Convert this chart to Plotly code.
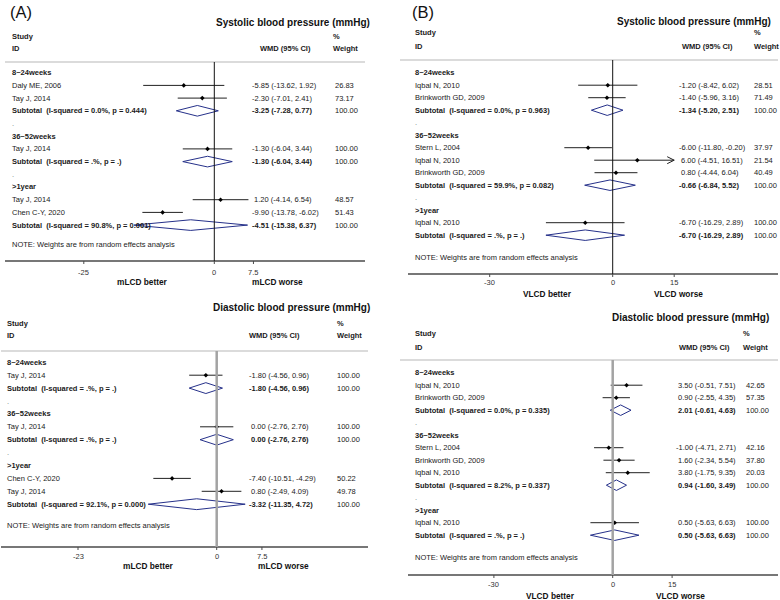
import plotly.graph_objects as go

W, H = 780, 600

# ------------------------------------------------------------------ data
# Panel A, systolic (mLCD)
A_SBP_rows = ["8~24weeks", "Daly ME, 2006", "Tay J, 2014",
              "Subtotal  (I-squared = 0.0%, p = 0.444)", ".",
              "36~52weeks", "Tay J, 2014",
              "Subtotal  (I-squared = .%, p = .)", ".",
              ">1year", "Tay J, 2014", "Chen C-Y, 2020",
              "Subtotal  (I-squared = 90.8%, p = 0.001)"]
A_SBP_kind = ["g", "s", "s", "t", "d", "g", "s", "t", "d", "g", "s", "s", "t"]
A_SBP_est = [None, -5.85, -2.30, -3.25, None, None, -1.30, -1.30, None, None, 1.20, -9.90, -4.51]
A_SBP_lo = [None, -13.62, -7.01, -7.28, None, None, -6.04, -6.04, None, None, -4.14, -13.78, -15.38]
A_SBP_hi = [None, 1.92, 2.41, 0.77, None, None, 3.44, 3.44, None, None, 6.54, -6.02, 6.37]
A_SBP_wt = [None, 26.83, 73.17, 100.00, None, None, 100.00, 100.00, None, None, 48.57, 51.43, 100.00]
A_SBP_ticks = [-25, 0, 7.5]
A_SBP_ticktext = ["-25", "0", "7.5"]

# Panel A, diastolic (mLCD)
A_DBP_rows = ["8~24weeks", "Tay J, 2014",
              "Subtotal  (I-squared = .%, p = .)", ".",
              "36~52weeks", "Tay J, 2014",
              "Subtotal  (I-squared = .%, p = .)", ".",
              ">1year", "Chen C-Y, 2020", "Tay J, 2014",
              "Subtotal  (I-squared = 92.1%, p = 0.000)"]
A_DBP_kind = ["g", "s", "t", "d", "g", "s", "t", "d", "g", "s", "s", "t"]
A_DBP_est = [None, -1.80, -1.80, None, None, 0.00, 0.00, None, None, -7.40, 0.80, -3.32]
A_DBP_lo = [None, -4.56, -4.56, None, None, -2.76, -2.76, None, None, -10.51, -2.49, -11.35]
A_DBP_hi = [None, 0.96, 0.96, None, None, 2.76, 2.76, None, None, -4.29, 4.09, 4.72]
A_DBP_wt = [None, 100.00, 100.00, None, None, 100.00, 100.00, None, None, 50.22, 49.78, 100.00]
A_DBP_ticks = [-23, 0, 7.5]
A_DBP_ticktext = ["-23", "0", "7.5"]

# Panel B, systolic (VLCD)
B_SBP_rows = ["8~24weeks", "Iqbal N, 2010", "Brinkworth GD, 2009",
              "Subtotal  (I-squared = 0.0%, p = 0.963)", ".",
              "36~52weeks", "Stern L, 2004", "Iqbal N, 2010", "Brinkworth GD, 2009",
              "Subtotal  (I-squared = 59.9%, p = 0.082)", ".",
              ">1year", "Iqbal N, 2010",
              "Subtotal  (I-squared = .%, p = .)"]
B_SBP_kind = ["g", "s", "s", "t", "d", "g", "s", "s", "s", "t", "d", "g", "s", "t"]
B_SBP_est = [None, -1.20, -1.40, -1.34, None, None, -6.00, 6.00, 0.80, -0.66, None, None, -6.70, -6.70]
B_SBP_lo = [None, -8.42, -5.96, -5.20, None, None, -11.80, -4.51, -4.44, -6.84, None, None, -16.29, -16.29]
B_SBP_hi = [None, 6.02, 3.16, 2.51, None, None, -0.20, 16.51, 6.04, 5.52, None, None, 2.89, 2.89]
B_SBP_wt = [None, 28.51, 71.49, 100.00, None, None, 37.97, 21.54, 40.49, 100.00, None, None, 100.00, 100.00]
B_SBP_ticks = [-30, 0, 15]
B_SBP_ticktext = ["-30", "0", "15"]

# Panel B, diastolic (VLCD)
B_DBP_rows = ["8~24weeks", "Iqbal N, 2010", "Brinkworth GD, 2009",
              "Subtotal  (I-squared = 0.0%, p = 0.335)", ".",
              "36~52weeks", "Stern L, 2004", "Brinkworth GD, 2009", "Iqbal N, 2010",
              "Subtotal  (I-squared = 8.2%, p = 0.337)", ".",
              ">1year", "Iqbal N, 2010",
              "Subtotal  (I-squared = .%, p = .)"]
B_DBP_kind = ["g", "s", "s", "t", "d", "g", "s", "s", "s", "t", "d", "g", "s", "t"]
B_DBP_est = [None, 3.50, 0.90, 2.01, None, None, -1.00, 1.60, 3.80, 0.94, None, None, 0.50, 0.50]
B_DBP_lo = [None, -0.51, -2.55, -0.61, None, None, -4.71, -2.34, -1.75, -1.60, None, None, -5.63, -5.63]
B_DBP_hi = [None, 7.51, 4.35, 4.63, None, None, 2.71, 5.54, 9.35, 3.49, None, None, 6.63, 6.63]
B_DBP_wt = [None, 42.65, 57.35, 100.00, None, None, 42.16, 37.80, 20.03, 100.00, None, None, 100.00, 100.00]
B_DBP_ticks = [-30, 0, 15]
B_DBP_ticktext = ["-30", "0", "15"]

NOTE_TEXT = "NOTE: Weights are from random effects analysis"

# ------------------------------------------------------------------ styling / geometry
FONT = "Liberation Sans, Arial, Helvetica, sans-serif"
TXT = "#1a1a1a"
NAVY = "#26318a"
AXC = "#4a4a4a"
FS = 7.5

panels = [
    dict(letter="(A)", letter_xy=(8, 12),
         title="Systolic blood pressure (mmHg)", better="mLCD better", worse="mLCD worse",
         rows=A_SBP_rows, kind=A_SBP_kind, est=A_SBP_est, lo=A_SBP_lo, hi=A_SBP_hi, wt=A_SBP_wt,
         ticks=A_SBP_ticks, ticktext=A_SBP_ticktext, tick_dy=11,
         x0=214.3, k=5.22, xl=5, xr=365, yt=62, yb=261, y0=72.7, s=12.7, hline=(5, 365),
         lab_x=10, est_x=250, wt_x=333, study_y=36, id_y=48.5, wmd_x=258, pct_x=331,
         title_r=372, title_y=22.5, note_y=244, better_xy=(142, 282), worse_xy=(277, 282),
         zero=("#111111", 1)),
    dict(letter=None, letter_xy=None,
         title="Diastolic blood pressure (mmHg)", better="mLCD better", worse="mLCD worse",
         rows=A_DBP_rows, kind=A_DBP_kind, est=A_DBP_est, lo=A_DBP_lo, hi=A_DBP_hi, wt=A_DBP_wt,
         ticks=A_DBP_ticks, ticktext=A_DBP_ticktext, tick_dy=9,
         x0=216.7, k=6.03, xl=1, xr=368, yt=351, yb=547, y0=362.3, s=12.9, hline=(1, 368),
         lab_x=5, est_x=247, wt_x=335, study_y=323, id_y=335, wmd_x=247, pct_x=335,
         title_r=372, title_y=307, note_y=525, better_xy=(148, 566), worse_xy=(283, 566),
         zero=("#a3a3a3", 2.5)),
    dict(letter="(B)", letter_xy=(410, 12),
         title="Systolic blood pressure (mmHg)", better="VLCD better", worse="VLCD worse",
         rows=B_SBP_rows, kind=B_SBP_kind, est=B_SBP_est, lo=B_SBP_lo, hi=B_SBP_hi, wt=B_SBP_wt,
         ticks=B_SBP_ticks, ticktext=B_SBP_ticktext, tick_dy=8,
         x0=612.7, k=4.1, xl=408, xr=778, yt=60, yb=274, y0=72.7, s=12.5, hline=(400, 778),
         lab_x=413, est_x=677, wt_x=752, study_y=32, id_y=46, wmd_x=680, pct_x=752,
         title_r=773, title_y=22, note_y=257, better_xy=(547, 294), worse_xy=(678, 294),
         zero=("#111111", 1)),
    dict(letter=None, letter_xy=None,
         title="Diastolic blood pressure (mmHg)", better="VLCD better", worse="VLCD worse",
         rows=B_DBP_rows, kind=B_DBP_kind, est=B_DBP_est, lo=B_DBP_lo, hi=B_DBP_hi, wt=B_DBP_wt,
         ticks=B_DBP_ticks, ticktext=B_DBP_ticktext, tick_dy=9.5,
         x0=612.7, k=3.96, xl=408, xr=778, yt=360, yb=575, y0=372.7, s=12.5, hline=(400, 778),
         lab_x=413, est_x=674, wt_x=744, study_y=333, id_y=347, wmd_x=677, pct_x=741,
         title_r=771, title_y=317, note_y=557, better_xy=(550, 595.5), worse_xy=(680, 595.5),
         zero=("#a3a3a3", 2.5)),
]

fig = go.Figure()
annotations = []
shapes = []


def px2paper_x(px):
    return px / W


def px2paper_y(py):
    return 1 - py / H


def add_text(x, y, text, xref="paper", yref="paper", size=FS, bold=False,
             xanchor="left", color=TXT):
    if xref == "paper":
        x = px2paper_x(x)
    if yref == "paper":
        y = px2paper_y(y)
    annotations.append(dict(
        x=x, xref=xref, y=y, yref=yref,
        text=("<b>%s</b>" % text) if bold else text,
        showarrow=False, xanchor=xanchor, yanchor="middle",
        font=dict(family=FONT, size=size, color=color)))


def fmt_est(e, l, h):
    s = "%.2f (%.2f, %.2f)" % (e, l, h)
    if e >= 0:
        s = "\u00a0" + s
    return s


for pi, p in enumerate(panels):
    n = pi + 1
    xa = "x" if n == 1 else "x%d" % n
    ya = "y" if n == 1 else "y%d" % n
    xkey = "xaxis" if n == 1 else "xaxis%d" % n
    ykey = "yaxis" if n == 1 else "yaxis%d" % n

    xr_lo = (p["xl"] - p["x0"]) / p["k"]
    xr_hi = (p["xr"] - p["x0"]) / p["k"]
    yr_bot = (p["yb"] - p["y0"]) / p["s"]
    yr_top = (p["yt"] - p["y0"]) / p["s"]

    fig.layout[xkey] = dict(
        domain=[px2paper_x(p["xl"]), px2paper_x(p["xr"])], range=[xr_lo, xr_hi],
        anchor=ya, visible=False, fixedrange=True)
    fig.layout[ykey] = dict(
        domain=[px2paper_y(p["yb"]), px2paper_y(p["yt"])], range=[yr_bot, yr_top],
        anchor=xa, visible=False, fixedrange=True)

    lim_lo, lim_hi = min(p["ticks"]), max(p["ticks"])

    # header rule
    shapes.append(dict(type="line", xref="paper", yref="paper",
                       x0=px2paper_x(p["hline"][0]), x1=px2paper_x(p["hline"][1]),
                       y0=px2paper_y(p["yt"]), y1=px2paper_y(p["yt"]),
                       line=dict(color="#cfcfcf", width=1.5)))
    # axis line
    shapes.append(dict(type="line", xref="paper", yref="paper",
                       x0=px2paper_x(p["xl"]), x1=px2paper_x(p["xr"]),
                       y0=px2paper_y(p["yb"]), y1=px2paper_y(p["yb"]),
                       line=dict(color=AXC, width=1.3)))
    # ticks and tick labels on the data scale
    for tv, tt in zip(p["ticks"], p["ticktext"]):
        shapes.append(dict(type="line", xref=xa, yref="paper", x0=tv, x1=tv,
                           y0=px2paper_y(p["yb"]), y1=px2paper_y(p["yb"] + 3),
                           line=dict(color=AXC, width=1)))
        add_text(tv, p["yb"] + p["tick_dy"], tt, xref=xa, xanchor="center", color="#333333")
    # null line at x = 0
    shapes.append(dict(type="line", xref=xa, yref="paper",
                       x0=0, x1=0, y0=px2paper_y(p["yb"]), y1=px2paper_y(p["yt"]),
                       line=dict(color=p["zero"][0], width=p["zero"][1])))

    ci_x, ci_y, pt_x, pt_y = [], [], [], []
    arrows_x, arrows_y = [], []
    for i, kd in enumerate(p["kind"]):
        if kd == "s":
            lo = max(p["lo"][i], lim_lo)
            hi = min(p["hi"][i], lim_hi)
            ci_x += [lo, hi, None]
            ci_y += [i, i, None]
            pt_x.append(p["est"][i])
            pt_y.append(i)
            if p["hi"][i] > lim_hi:
                ah = 7 / p["k"]
                dv = 3.5 / p["s"]
                arrows_x += [hi - ah, hi, hi - ah, None]
                arrows_y += [i - dv, i, i + dv, None]
        elif kd == "t":
            e, lo, hi = p["est"][i], p["lo"][i], p["hi"][i]
            hh = 0.42
            fig.add_trace(go.Scatter(
                x=[lo, e, hi, e, lo], y=[i, i - hh, i, i + hh, i],
                xaxis=xa, yaxis=ya, mode="lines",
                line=dict(color=NAVY, width=1), hoverinfo="skip"))

    fig.add_trace(go.Scatter(x=ci_x, y=ci_y, xaxis=xa, yaxis=ya, mode="lines",
                             connectgaps=False,
                             line=dict(color="#222222", width=1), hoverinfo="skip"))
    if arrows_x:
        fig.add_trace(go.Scatter(x=arrows_x, y=arrows_y, xaxis=xa, yaxis=ya, mode="lines",
                                 connectgaps=False,
                                 line=dict(color="#222222", width=1), hoverinfo="skip"))
    fig.add_trace(go.Scatter(x=pt_x, y=pt_y, xaxis=xa, yaxis=ya, mode="markers",
                             marker=dict(symbol="diamond", size=3.5, color="#000000"),
                             hoverinfo="skip"))

    # row texts
    for i, kd in enumerate(p["kind"]):
        lab = p["rows"][i]
        if kd == "g":
            add_text(p["lab_x"], i, lab, yref=ya, bold=True)
        elif kd == "d":
            add_text(p["lab_x"], i, lab, yref=ya, color="#777777")
        elif kd == "s":
            add_text(p["lab_x"], i, lab, yref=ya)
            add_text(p["est_x"], i, fmt_est(p["est"][i], p["lo"][i], p["hi"][i]), yref=ya)
            add_text(p["wt_x"], i, "%.2f" % p["wt"][i], yref=ya)
        elif kd == "t":
            add_text(p["lab_x"], i, lab.replace("  ", "\u00a0 "), yref=ya, bold=True)
            add_text(p["est_x"], i, fmt_est(p["est"][i], p["lo"][i], p["hi"][i]), yref=ya, bold=True)
            add_text(p["wt_x"], i, "%.2f" % p["wt"][i], yref=ya)

    # headers and labels
    add_text(p["lab_x"], p["study_y"], "Study", bold=True)
    add_text(p["lab_x"], p["id_y"], "ID", bold=True)
    add_text(p["wmd_x"], p["id_y"], "WMD (95% CI)", bold=True)
    add_text(p["pct_x"], p["study_y"], "%", bold=True)
    add_text(p["pct_x"], p["id_y"], "Weight", bold=True)
    add_text(p["title_r"], p["title_y"], p["title"], size=10, bold=True, xanchor="right", color="#111111")
    add_text(p["lab_x"], p["note_y"], NOTE_TEXT)
    add_text(p["better_xy"][0], p["better_xy"][1], p["better"], size=8.3, bold=True,
             xanchor="center", color="#111111")
    add_text(p["worse_xy"][0], p["worse_xy"][1], p["worse"], size=8.3, bold=True,
             xanchor="center", color="#111111")
    if p["letter"]:
        add_text(p["letter_xy"][0], p["letter_xy"][1], p["letter"], size=16.5, color="#111111")

fig.update_layout(
    width=W, height=H, autosize=False,
    margin=dict(l=0, r=0, t=0, b=0),
    paper_bgcolor="white", plot_bgcolor="rgba(0,0,0,0)",
    showlegend=False, annotations=annotations, shapes=shapes,
    font=dict(family=FONT, size=FS, color=TXT),
)

fig.write_html(
    "out.html",
    config={"displayModeBar": False, "staticPlot": True},
    post_script="document.body.style.margin='0px';document.body.style.overflow='hidden';",
)
